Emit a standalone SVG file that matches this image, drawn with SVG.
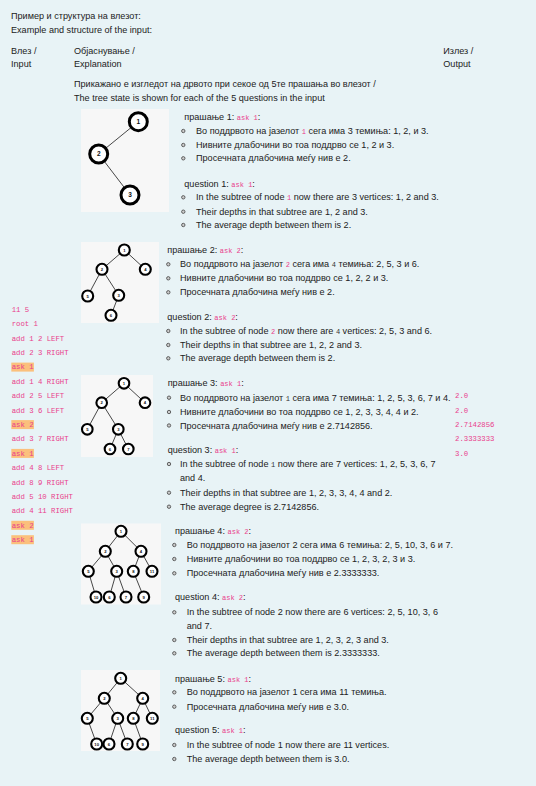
<svg xmlns="http://www.w3.org/2000/svg" width="536" height="786" viewBox="0 0 536 786">
<style>
.t{font-family:"Liberation Sans",Arial,sans-serif;font-size:9.1px;fill:#222}
.c{font-family:"Liberation Mono","DejaVu Sans Mono",monospace;font-size:7.3px;fill:#e83e8c}
.ic{font-family:"Liberation Mono","DejaVu Sans Mono",monospace;font-size:7px;fill:#e83e8c}
.id{font-family:"Liberation Mono","DejaVu Sans Mono",monospace;font-size:7px;fill:#333}
.hl{fill:#fbc07c}
.img{fill:#f7f7f7}
.e{stroke:#333;stroke-width:0.9;fill:none}
.n circle{fill:#fff;stroke:#000;stroke-width:2.1}
.n text{font-family:"Liberation Sans",Arial,sans-serif;font-size:4.2px;font-weight:bold;fill:#111;text-anchor:middle}
.big circle{stroke-width:3}
.big text{font-size:6.5px}
.b{fill:#ccc;stroke:#444;stroke-width:0.8}
</style>
<rect width="536" height="786" fill="#e8f3f6"/>

<g id="header">
<text class="t" x="11" y="19">Пример и структура на влезот:</text>
<text class="t" x="11" y="33">Example and structure of the input:</text>
<text class="t" x="11" y="53.5">Влез /</text>
<text class="t" x="11" y="67">Input</text>
<text class="t" x="74" y="53.5">Објаснување /</text>
<text class="t" x="74" y="67">Explanation</text>
<text class="t" x="443.3" y="53.5">Излез /</text>
<text class="t" x="443.3" y="67">Output</text>
<text class="t" x="74" y="86.5">Прикажано е изгледот на дрвото при секое од 5те прашања во влезот /</text>
<text class="t" x="74" y="101">The tree state is shown for each of the 5 questions in the input</text>
</g>

<g id="input">
<rect class="hl" x="11.3" y="362.6" width="22.6" height="9"/>
<rect class="hl" x="11.3" y="420.1" width="22.6" height="9"/>
<rect class="hl" x="11.3" y="448.9" width="22.6" height="9"/>
<rect class="hl" x="11.3" y="520.8" width="22.6" height="9"/>
<rect class="hl" x="11.3" y="535.2" width="22.6" height="9"/>
<text class="c" x="11.7" y="311.8">11 5</text>
<text class="c" x="11.7" y="326.2">root 1</text>
<text class="c" x="11.7" y="340.6">add 1 2 LEFT</text>
<text class="c" x="11.7" y="355">add 2 3 RIGHT</text>
<text class="c" x="11.7" y="369.4">ask 1</text>
<text class="c" x="11.7" y="383.8">add 1 4 RIGHT</text>
<text class="c" x="11.7" y="398.2">add 2 5 LEFT</text>
<text class="c" x="11.7" y="412.6">add 3 6 LEFT</text>
<text class="c" x="11.7" y="427">ask 2</text>
<text class="c" x="11.7" y="441.4">add 3 7 RIGHT</text>
<text class="c" x="11.7" y="455.8">ask 1</text>
<text class="c" x="11.7" y="470.2">add 4 8 LEFT</text>
<text class="c" x="11.7" y="484.6">add 8 9 RIGHT</text>
<text class="c" x="11.7" y="499">add 5 10 RIGHT</text>
<text class="c" x="11.7" y="513.4">add 4 11 RIGHT</text>
<text class="c" x="11.7" y="527.8">ask 2</text>
<text class="c" x="11.7" y="542.2">ask 1</text>
</g>

<g id="output">
<text class="c" x="455" y="398.2">2.0</text>
<text class="c" x="455" y="412.6">2.0</text>
<text class="c" x="455" y="427">2.7142856</text>
<text class="c" x="455" y="441.4">2.3333333</text>
<text class="c" x="455" y="455.8">3.0</text>
</g>

<!-- Tree 1 -->
<rect class="img" x="81" y="109" width="88" height="103"/>
<g id="tree1-connectors">
<line class="e" x1="138.3" y1="121.7" x2="98.7" y2="154"/>
<line class="e" x1="98.7" y1="154" x2="130" y2="195"/>
</g>
<g id="t1-n1" class="n big"><circle cx="138.3" cy="121.7" r="9"/><text x="138.3" y="124">1</text></g>
<g id="t1-n2" class="n big"><circle cx="98.7" cy="154" r="9"/><text x="98.7" y="156.3">2</text></g>
<g id="t1-n3" class="n big"><circle cx="130" cy="195" r="9"/><text x="130" y="197.3">3</text></g>

<g id="text1">
<text class="t" x="184.3" y="119.7">прашање 1: <tspan class="ic">ask 1</tspan>:</text>
<circle class="b" cx="183.3" cy="131" r="1.7"/>
<text class="t" x="196" y="134">Во поддрвото на јазелот <tspan class="ic">1</tspan> сега има 3 темиња: 1, 2, и 3.</text>
<circle class="b" cx="183.3" cy="145" r="1.7"/>
<text class="t" x="196" y="148">Нивните длабочини во тоа поддрво се 1, 2 и 3.</text>
<circle class="b" cx="183.3" cy="158.3" r="1.7"/>
<text class="t" x="196" y="161.3">Просечната длабочина меѓу нив е 2.</text>
<text class="t" x="184.3" y="187">question 1: <tspan class="ic">ask 1</tspan>:</text>
<circle class="b" cx="183.3" cy="197.3" r="1.7"/>
<text class="t" x="196" y="200.3">In the subtree of node <tspan class="ic">1</tspan> now there are 3 vertices: 1, 2 and 3.</text>
<circle class="b" cx="183.3" cy="211.7" r="1.7"/>
<text class="t" x="196" y="214.7">Their depths in that subtree are 1, 2 and 3.</text>
<circle class="b" cx="183.3" cy="225" r="1.7"/>
<text class="t" x="196" y="228">The average depth between them is 2.</text>
</g>

<!-- Tree 2 -->
<rect class="img" x="81" y="242" width="78" height="81"/>
<g id="tree2-connectors">
<line class="e" x1="124.3" y1="250" x2="102" y2="269.3"/>
<line class="e" x1="124.3" y1="250" x2="145.3" y2="269.3"/>
<line class="e" x1="102" y1="269.3" x2="87.7" y2="296"/>
<line class="e" x1="102" y1="269.3" x2="118.7" y2="295.3"/>
<line class="e" x1="118.7" y1="295.3" x2="111" y2="315.3"/>
</g>
<g id="t2-n1" class="n"><circle cx="124.3" cy="250" r="5.5"/><text x="124.3" y="251.5">1</text></g>
<g id="t2-n2" class="n"><circle cx="102" cy="269.3" r="5.5"/><text x="102" y="270.8">2</text></g>
<g id="t2-n4" class="n"><circle cx="145.3" cy="269.3" r="5.5"/><text x="145.3" y="270.8">4</text></g>
<g id="t2-n5" class="n"><circle cx="87.7" cy="296" r="5.5"/><text x="87.7" y="297.5">5</text></g>
<g id="t2-n3" class="n"><circle cx="118.7" cy="295.3" r="5.5"/><text x="118.7" y="296.8">3</text></g>
<g id="t2-n6" class="n"><circle cx="111" cy="315.3" r="5.5"/><text x="111" y="316.8">6</text></g>

<g id="text2">
<text class="t" x="167.3" y="253">прашање 2: <tspan class="ic">ask 2</tspan>:</text>
<circle class="b" cx="168.3" cy="264.3" r="1.7"/>
<text class="t" x="180" y="267.3">Во поддрвото на јазелот <tspan class="ic">2</tspan> сега има <tspan class="id">4</tspan> темиња: 2, 5, 3 и 6.</text>
<circle class="b" cx="168.3" cy="278.3" r="1.7"/>
<text class="t" x="180" y="281.3">Нивните длабочини во тоа поддрво се 1, 2, 2 и 3.</text>
<circle class="b" cx="168.3" cy="292.3" r="1.7"/>
<text class="t" x="180" y="295.3">Просечната длабочина меѓу нив е 2.</text>
<text class="t" x="167.3" y="319.7">question 2: <tspan class="ic">ask 2</tspan>:</text>
<circle class="b" cx="168.3" cy="331" r="1.7"/>
<text class="t" x="180" y="334">In the subtree of node <tspan class="ic">2</tspan> now there are <tspan class="id">4</tspan> vertices: 2, 5, 3 and 6.</text>
<circle class="b" cx="168.3" cy="345" r="1.7"/>
<text class="t" x="180" y="348">Their depths in that subtree are 1, 2, 2 and 3.</text>
<circle class="b" cx="168.3" cy="358.3" r="1.7"/>
<text class="t" x="180" y="361.3">The average depth between them is 2.</text>
</g>

<!-- Tree 3 -->
<rect class="img" x="81" y="375" width="72" height="82"/>
<g id="tree3-connectors">
<line class="e" x1="124" y1="383.3" x2="101.7" y2="402.7"/>
<line class="e" x1="124" y1="383.3" x2="145" y2="402.7"/>
<line class="e" x1="101.7" y1="402.7" x2="87.3" y2="429.3"/>
<line class="e" x1="101.7" y1="402.7" x2="118.3" y2="429.3"/>
<line class="e" x1="118.3" y1="429.3" x2="110" y2="449"/>
<line class="e" x1="118.3" y1="429.3" x2="128.3" y2="449"/>
</g>
<g id="t3-n1" class="n"><circle cx="124" cy="383.3" r="5.3"/><text x="124" y="384.8">1</text></g>
<g id="t3-n2" class="n"><circle cx="101.7" cy="402.7" r="5.3"/><text x="101.7" y="404.2">2</text></g>
<g id="t3-n4" class="n"><circle cx="145" cy="402.7" r="5.3"/><text x="145" y="404.2">4</text></g>
<g id="t3-n5" class="n"><circle cx="87.3" cy="429.3" r="5.3"/><text x="87.3" y="430.8">5</text></g>
<g id="t3-n3" class="n"><circle cx="118.3" cy="429.3" r="5.3"/><text x="118.3" y="430.8">3</text></g>
<g id="t3-n6" class="n"><circle cx="110" cy="449" r="5.3"/><text x="110" y="450.5">6</text></g>
<g id="t3-n7" class="n"><circle cx="128.3" cy="449" r="5.3"/><text x="128.3" y="450.5">7</text></g>

<g id="text3">
<text class="t" x="167.7" y="386.3">прашање 3: <tspan class="ic">ask 1</tspan>:</text>
<circle class="b" cx="169" cy="397.7" r="1.7"/>
<text class="t" x="180" y="400.7">Во поддрвото на јазелот <tspan class="id">1</tspan> сега има 7 темиња: 1, 2, 5, 3, 6, 7 и 4.</text>
<circle class="b" cx="169" cy="412" r="1.7"/>
<text class="t" x="180" y="415">Нивните длабочини во тоа поддрво се 1, 2, 3, 3, 4, 4 и 2.</text>
<circle class="b" cx="169" cy="425.5" r="1.7"/>
<text class="t" x="180" y="428.5">Просечната длабочина меѓу нив е 2.7142856.</text>
<text class="t" x="167.7" y="453">question 3: <tspan class="ic">ask 1</tspan>:</text>
<circle class="b" cx="169" cy="464" r="1.7"/>
<text class="t" x="180" y="467">In the subtree of node <tspan class="id">1</tspan> now there are 7 vertices: 1, 2, 5, 3, 6, 7</text>
<text class="t" x="180" y="481.3">and 4.</text>
<circle class="b" cx="169" cy="492.7" r="1.7"/>
<text class="t" x="180" y="495.7">Their depths in that subtree are 1, 2, 3, 3, 4, 4 and 2.</text>
<circle class="b" cx="169" cy="506.7" r="1.7"/>
<text class="t" x="180" y="509.7">The average degree is 2.7142856.</text>
</g>

<!-- Tree 4 -->
<rect class="img" x="81" y="523.5" width="80" height="81"/>
<g id="tree4-connectors">
<line class="e" x1="121" y1="531.3" x2="105.3" y2="551.3"/>
<line class="e" x1="121" y1="531.3" x2="141" y2="551.3"/>
<line class="e" x1="105.3" y1="551.3" x2="88.3" y2="571.3"/>
<line class="e" x1="105.3" y1="551.3" x2="116.7" y2="571.3"/>
<line class="e" x1="141" y1="551.3" x2="133.3" y2="571.3"/>
<line class="e" x1="141" y1="551.3" x2="152" y2="571.3"/>
<line class="e" x1="88.3" y1="571.3" x2="96" y2="597"/>
<line class="e" x1="116.7" y1="571.3" x2="109.3" y2="597"/>
<line class="e" x1="116.7" y1="571.3" x2="126" y2="597"/>
<line class="e" x1="133.3" y1="571.3" x2="143.7" y2="597"/>
</g>
<g id="t4-n1" class="n"><circle cx="121" cy="531.3" r="5.5"/><text x="121" y="532.8">1</text></g>
<g id="t4-n2" class="n"><circle cx="105.3" cy="551.3" r="5.5"/><text x="105.3" y="552.8">2</text></g>
<g id="t4-n4" class="n"><circle cx="141" cy="551.3" r="5.5"/><text x="141" y="552.8">4</text></g>
<g id="t4-n5" class="n"><circle cx="88.3" cy="571.3" r="5.5"/><text x="88.3" y="572.8">5</text></g>
<g id="t4-n3" class="n"><circle cx="116.7" cy="571.3" r="5.5"/><text x="116.7" y="572.8">3</text></g>
<g id="t4-n8" class="n"><circle cx="133.3" cy="571.3" r="5.5"/><text x="133.3" y="572.8">8</text></g>
<g id="t4-n11" class="n"><circle cx="152" cy="571.3" r="5.5"/><text x="152" y="572.8">11</text></g>
<g id="t4-n10" class="n"><circle cx="96" cy="597" r="5.5"/><text x="96" y="598.5">10</text></g>
<g id="t4-n6" class="n"><circle cx="109.3" cy="597" r="5.5"/><text x="109.3" y="598.5">6</text></g>
<g id="t4-n7" class="n"><circle cx="126" cy="597" r="5.5"/><text x="126" y="598.5">7</text></g>
<g id="t4-n9" class="n"><circle cx="143.7" cy="597" r="5.5"/><text x="143.7" y="598.5">9</text></g>

<g id="text4">
<text class="t" x="175" y="534">прашање 4: <tspan class="ic">ask 2</tspan>:</text>
<circle class="b" cx="174.3" cy="545" r="1.7"/>
<text class="t" x="186.7" y="548">Во поддрвото на јазелот 2 сега има 6 темиња: 2, 5, 10, 3, 6 и 7.</text>
<circle class="b" cx="174.3" cy="559" r="1.7"/>
<text class="t" x="186.7" y="562">Нивните длабочини во тоа поддрво се 1, 2, 3, 2, 3 и 3.</text>
<circle class="b" cx="174.3" cy="573.3" r="1.7"/>
<text class="t" x="186.7" y="576.3">Просечната длабочина меѓу нив е 2.3333333.</text>
<text class="t" x="175" y="599.7">question 4: <tspan class="ic">ask 2</tspan>:</text>
<circle class="b" cx="174.3" cy="612.3" r="1.7"/>
<text class="t" x="186.7" y="615.3">In the subtree of node 2 now there are 6 vertices: 2, 5, 10, 3, 6</text>
<text class="t" x="186.7" y="629">and 7.</text>
<circle class="b" cx="174.3" cy="640" r="1.7"/>
<text class="t" x="186.7" y="643">Their depths in that subtree are 1, 2, 3, 2, 3 and 3.</text>
<circle class="b" cx="174.3" cy="653.3" r="1.7"/>
<text class="t" x="186.7" y="656.3">The average depth between them is 2.3333333.</text>
</g>

<!-- Tree 5 -->
<rect class="img" x="81" y="670" width="79" height="81"/>
<g id="tree5-connectors">
<line class="e" x1="120.7" y1="678.3" x2="104.3" y2="698.3"/>
<line class="e" x1="120.7" y1="678.3" x2="142.7" y2="698.3"/>
<line class="e" x1="104.3" y1="698.3" x2="87.3" y2="718.3"/>
<line class="e" x1="104.3" y1="698.3" x2="117.7" y2="718.3"/>
<line class="e" x1="142.7" y1="698.3" x2="133.3" y2="718.3"/>
<line class="e" x1="142.7" y1="698.3" x2="152.3" y2="718.3"/>
<line class="e" x1="87.3" y1="718.3" x2="96.7" y2="744"/>
<line class="e" x1="117.7" y1="718.3" x2="109" y2="744"/>
<line class="e" x1="117.7" y1="718.3" x2="127.3" y2="744"/>
<line class="e" x1="133.3" y1="718.3" x2="142.7" y2="744"/>
</g>
<g id="t5-n1" class="n"><circle cx="120.7" cy="678.3" r="5.5"/><text x="120.7" y="679.8">1</text></g>
<g id="t5-n2" class="n"><circle cx="104.3" cy="698.3" r="5.5"/><text x="104.3" y="699.8">2</text></g>
<g id="t5-n4" class="n"><circle cx="142.7" cy="698.3" r="5.5"/><text x="142.7" y="699.8">4</text></g>
<g id="t5-n5" class="n"><circle cx="87.3" cy="718.3" r="5.5"/><text x="87.3" y="719.8">5</text></g>
<g id="t5-n3" class="n"><circle cx="117.7" cy="718.3" r="5.5"/><text x="117.7" y="719.8">3</text></g>
<g id="t5-n8" class="n"><circle cx="133.3" cy="718.3" r="5.5"/><text x="133.3" y="719.8">8</text></g>
<g id="t5-n11" class="n"><circle cx="152.3" cy="718.3" r="5.5"/><text x="152.3" y="719.8">11</text></g>
<g id="t5-n10" class="n"><circle cx="96.7" cy="744" r="5.5"/><text x="96.7" y="745.5">10</text></g>
<g id="t5-n6" class="n"><circle cx="109" cy="744" r="5.5"/><text x="109" y="745.5">6</text></g>
<g id="t5-n7" class="n"><circle cx="127.3" cy="744" r="5.5"/><text x="127.3" y="745.5">7</text></g>
<g id="t5-n9" class="n"><circle cx="142.7" cy="744" r="5.5"/><text x="142.7" y="745.5">9</text></g>

<g id="text5">
<text class="t" x="175" y="682">прашање 5: <tspan class="ic">ask 1</tspan>:</text>
<circle class="b" cx="174.3" cy="692.3" r="1.7"/>
<text class="t" x="186.7" y="695.3">Во поддрвото на јазелот 1 сега има 11 темиња.</text>
<circle class="b" cx="174.3" cy="706.7" r="1.7"/>
<text class="t" x="186.7" y="709.7">Просечната длабочина меѓу нив е 3.0.</text>
<text class="t" x="175" y="733">question 5: <tspan class="ic">ask 1</tspan>:</text>
<circle class="b" cx="174.3" cy="745" r="1.7"/>
<text class="t" x="186.7" y="748">In the subtree of node 1 now there are 11 vertices.</text>
<circle class="b" cx="174.3" cy="759" r="1.7"/>
<text class="t" x="186.7" y="762">The average depth between them is 3.0.</text>
</g>
</svg>
